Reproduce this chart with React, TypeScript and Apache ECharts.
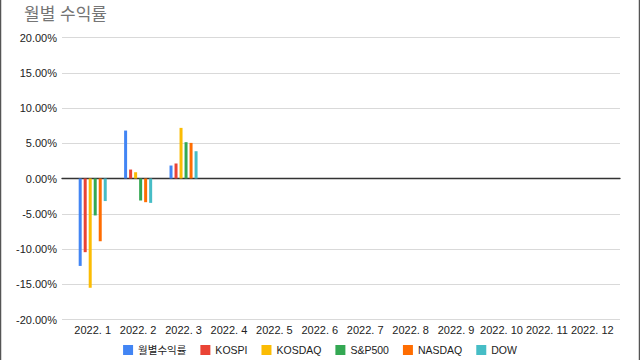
import React, { useEffect, useRef } from "react";
import * as echarts from "echarts";

const categories = ["2022. 1", "2022. 2", "2022. 3", "2022. 4", "2022. 5", "2022. 6", "2022. 7", "2022. 8", "2022. 9", "2022. 10", "2022. 11", "2022. 12"];
const seriesNames = ["월별수익률", "KOSPI", "KOSDAQ", "S&P500", "NASDAQ", "DOW"];
const monthly = [-12.4, 6.8, 1.84];
const kospi = [-10.45, 1.27, 2.13];
const kosdaq = [-15.5, 0.89, 7.18];
const sp500 = [-5.24, -3.12, 5.15];
const nasdaq = [-8.9, -3.36, 5.05];
const dow = [-3.2, -3.46, 3.87];
const colors = ["#4285F4", "#EA4335", "#FBBC04", "#34A853", "#FF6D01", "#46BDC6"];
const yTicks = { min: -20, max: 20, interval: 5 };

export default function App() {
  const ref = useRef<HTMLDivElement>(null);
  useEffect(() => {
    if (!ref.current) return;
    const chart = echarts.init(ref.current, null, { renderer: "svg" });
    const values = [monthly, kospi, kosdaq, sp500, nasdaq, dow];
    const font = "Arial, 'Liberation Sans', 'Noto Sans CJK KR', sans-serif";
    const top = 37.5;
    const bottom = 360 - 319.5;
    chart.setOption({
      animation: false,
      textStyle: { fontFamily: font },
      title: {
        text: "월별 수익률",
        left: 19,
        top: 1,
        textStyle: { fontSize: 17, fontWeight: "normal", color: "#757575", fontFamily: font },
      },
      legend: {
        top: 342,
        left: "center",
        padding: 2,
        itemWidth: 10,
        itemHeight: 10,
        itemGap: 14,
        icon: "rect",
        textStyle: { fontSize: 10.5, lineHeight: 12, color: "#222", fontFamily: font },
        data: seriesNames,
      },
      grid: [
        { left: 62, right: 20, top, bottom },
        { left: 70, right: 25, top, bottom },
      ],
      xAxis: [
        {
          type: "value",
          gridIndex: 0,
          min: 0,
          max: 1,
          axisLine: { show: true, onZero: true, lineStyle: { color: "#333", width: 1.3 } },
          axisTick: { show: false },
          axisLabel: { show: false },
          splitLine: { show: false },
        },
        {
          type: "category",
          gridIndex: 1,
          data: categories,
          position: "bottom",
          axisLine: { show: false, onZero: false },
          axisTick: { show: false },
          axisLabel: { fontSize: 11, color: "#222", margin: 5, interval: 0, fontFamily: font },
        },
      ],
      yAxis: [
        {
          type: "value",
          gridIndex: 0,
          ...yTicks,
          axisLine: { show: false },
          axisTick: { show: false },
          axisLabel: {
            fontSize: 11,
            color: "#222",
            margin: 5,
            fontFamily: font,
            formatter: (v: number) => v.toFixed(2) + "%",
          },
          splitLine: { show: true, lineStyle: { color: "#d9d9d9", width: 1 } },
        },
        {
          type: "value",
          gridIndex: 1,
          ...yTicks,
          axisLine: { show: false },
          axisTick: { show: false },
          axisLabel: { show: false },
          splitLine: { show: false },
        },
      ],
      series: seriesNames.map((name, i) => ({
        name,
        type: "bar",
        xAxisIndex: 1,
        yAxisIndex: 1,
        data: values[i],
        barWidth: 3,
        barGap: "67%",
        itemStyle: { color: colors[i] },
      })),
      graphic: [
        { type: "line", shape: { x1: 0.5, y1: 0, x2: 0.5, y2: 360 }, style: { stroke: "#555", lineWidth: 1.5 } },
        { type: "line", shape: { x1: 639.5, y1: 0, x2: 639.5, y2: 360 }, style: { stroke: "#555", lineWidth: 1.5 } },
      ],
    });
    return () => chart.dispose();
  }, []);
  return <div ref={ref} style={{ position: "absolute", left: 0, top: 0, width: 640, height: 360 }} />;
}
